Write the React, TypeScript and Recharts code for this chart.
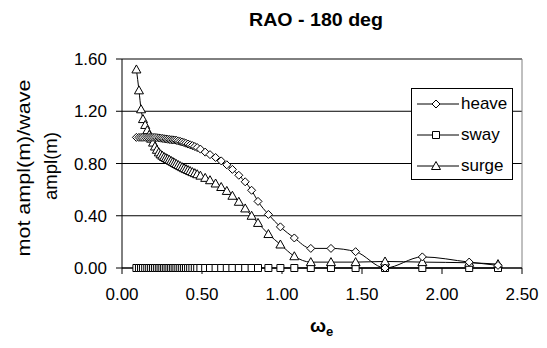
import React from "react";
import { LineChart, Line, XAxis, YAxis, CartesianGrid, Legend, ReferenceLine } from "recharts";

// encounter frequency (rad/s)
const omega = [
    0.09, 0.106, 0.119, 0.131, 0.145, 0.158, 0.17, 0.182, 0.194, 0.206,
    0.218, 0.23, 0.241, 0.252, 0.263, 0.274, 0.285, 0.296, 0.307, 0.318,
    0.329, 0.34, 0.352, 0.364, 0.376, 0.388, 0.4, 0.413, 0.426, 0.44,
    0.455, 0.47, 0.49, 0.52, 0.55, 0.585, 0.62, 0.655, 0.69, 0.73,
    0.77, 0.81, 0.85, 0.915, 0.99, 1.077, 1.18, 1.306, 1.46, 1.644,
    1.877, 2.17, 2.35,
];

const heave = [
    1.0, 1.0, 1.0, 1.0, 1.0, 1.0, 1.0, 1.0, 1.0, 1.0,
    0.998, 0.996, 0.994, 0.992, 0.99, 0.988, 0.986, 0.984, 0.982, 0.981,
    0.98, 0.977, 0.973, 0.969, 0.965, 0.96, 0.955, 0.949, 0.943, 0.937,
    0.93, 0.922, 0.91, 0.887, 0.868, 0.846, 0.82, 0.79, 0.755, 0.71,
    0.66, 0.595, 0.51, 0.41, 0.315, 0.23, 0.15, 0.15, 0.125, 0.0,
    0.085, 0.045, 0.02,
];

const sway = [
    0, 0, 0, 0, 0, 0, 0, 0, 0, 0,
    0, 0, 0, 0, 0, 0, 0, 0, 0, 0,
    0, 0, 0, 0, 0, 0, 0, 0, 0, 0,
    0, 0, 0, 0, 0, 0, 0, 0, 0, 0,
    0, 0, 0, 0, 0, 0, 0, 0, 0, 0,
    0, 0, 0,
];

const surge = [
    1.52, 1.36, 1.215, 1.14, 1.095, 1.055, 1.02, 0.99, 0.96, 0.93,
    0.905, 0.885, 0.87, 0.86, 0.85, 0.842, 0.835, 0.828, 0.82, 0.812,
    0.804, 0.796, 0.788, 0.78, 0.772, 0.764, 0.757, 0.75, 0.742, 0.734,
    0.726, 0.718, 0.707, 0.69, 0.672, 0.647, 0.62, 0.59, 0.553, 0.507,
    0.456, 0.4, 0.345, 0.26, 0.18, 0.09, 0.045, 0.045, 0.045, 0.05,
    0.045, 0.04, 0.03,
];

const xTicks = [0, 0.5, 1, 1.5, 2, 2.5];
const yTicks = [0, 0.4, 0.8, 1.2, 1.6];

const data = omega.map((w, i) => ({ w, heave: heave[i], sway: sway[i], surge: surge[i] }));

const FONT = '"Liberation Sans", Arial, sans-serif';

type Shape = "diamond" | "square" | "triangle";

const legendItems: { name: string; shape: Shape }[] = [
    { name: "heave", shape: "diamond" },
    { name: "sway", shape: "square" },
    { name: "surge", shape: "triangle" },
];

const markerPath = (shape: Shape, cx: number, cy: number) => {
    if (shape === "diamond") return `M${cx},${cy - 4}L${cx + 4},${cy}L${cx},${cy + 4}L${cx - 4},${cy}Z`;
    if (shape === "square") return `M${cx - 3.5},${cy - 3.5}h7v7h-7Z`;
    return `M${cx},${cy - 4.5}L${cx + 4.5},${cy + 3.5}L${cx - 4.5},${cy + 3.5}Z`;
};

const makeDot = (shape: Shape) => (props: any) => {
    const { cx, cy, index } = props;
    if (cx == null || cy == null) return <g key={`${shape}-${index}`} />;
    return <path key={`${shape}-${index}`} d={markerPath(shape, cx, cy)} fill="#fff" stroke="#000" strokeWidth={1} />;
};

const renderLegend = () => (
    <div style={{ position: "relative", boxSizing: "border-box", width: 102, height: 92, border: "1px solid #000", background: "#fff", fontFamily: FONT, fontSize: 17, color: "#000" }}>
        {legendItems.map((it, i) => (
            <div key={it.name} style={{ position: "absolute", left: 0, top: 4 + 31 * i, height: 22, display: "flex", alignItems: "center" }}>
                <svg width={49} height={22} style={{ display: "block" }}>
                    <line x1={5} y1={11} x2={47} y2={11} stroke="#000" strokeWidth={1} />
                    <path d={markerPath(it.shape, 24, 11)} fill="#fff" stroke="#000" strokeWidth={1} />
                </svg>
                <span style={{ lineHeight: "22px" }}>{it.name}</span>
            </div>
        ))}
    </div>
);

const tickStyle = { fill: "#000", fontSize: 17, fontFamily: FONT };

export default function App() {
    return (
        <div style={{ position: "absolute", left: 0, top: 0, width: 547, height: 348, background: "#fff" }}>
            <LineChart width={547} height={348} data={data} margin={{ top: 59, right: 25, bottom: 20, left: 22 }}>
                <CartesianGrid vertical={false} stroke="#000" />
                <ReferenceLine x={2.5} stroke="#808080" />
                <XAxis
                    dataKey="w"
                    type="number"
                    domain={[0, 2.5]}
                    ticks={xTicks}
                    interval={0}
                    tickFormatter={(v: number) => v.toFixed(2)}
                    height={60}
                    tickSize={6}
                    tickMargin={14}
                    axisLine={{ stroke: "#000" }}
                    tickLine={{ stroke: "#000" }}
                    tick={tickStyle}
                />
                <YAxis
                    type="number"
                    domain={[0, 1.6]}
                    ticks={yTicks}
                    interval={0}
                    tickFormatter={(v: number) => v.toFixed(2)}
                    width={100}
                    tickSize={6}
                    tickMargin={9}
                    axisLine={{ stroke: "#000" }}
                    tickLine={{ stroke: "#000" }}
                    tick={tickStyle}
                />
                <Legend layout="horizontal" verticalAlign="middle" content={renderLegend} wrapperStyle={{ left: 411, top: 88, width: 102, height: 92 }} />
                <Line dataKey="sway" type="monotone" stroke="#000" strokeWidth={1} dot={makeDot("square")} isAnimationActive={false} />
                <Line dataKey="surge" type="monotone" stroke="#000" strokeWidth={1} dot={makeDot("triangle")} isAnimationActive={false} />
                <Line dataKey="heave" type="monotone" stroke="#000" strokeWidth={1} dot={makeDot("diamond")} isAnimationActive={false} />
                <text x={316} y={26} textAnchor="middle" fontFamily={FONT} fontWeight="bold" fontSize={18.5} textLength={134} lengthAdjust="spacingAndGlyphs" fill="#000">RAO - 180 deg</text>
                <text x={30} y={168} transform="rotate(-90 30 168)" textAnchor="middle" fontFamily={FONT} fontSize={18} textLength={177} lengthAdjust="spacingAndGlyphs" fill="#000">mot ampl(m)/wave</text>
                <text x={57} y={166} transform="rotate(-90 57 166)" textAnchor="middle" fontFamily={FONT} fontSize={18} textLength={68} lengthAdjust="spacingAndGlyphs" fill="#000">ampl(m)</text>
                <text x={310} y={332} fontFamily={FONT} fontWeight="bold" fontSize={19} fill="#000">
                    ω<tspan dy={4} fontSize={13}>e</tspan>
                </text>
            </LineChart>
        </div>
    );
}
